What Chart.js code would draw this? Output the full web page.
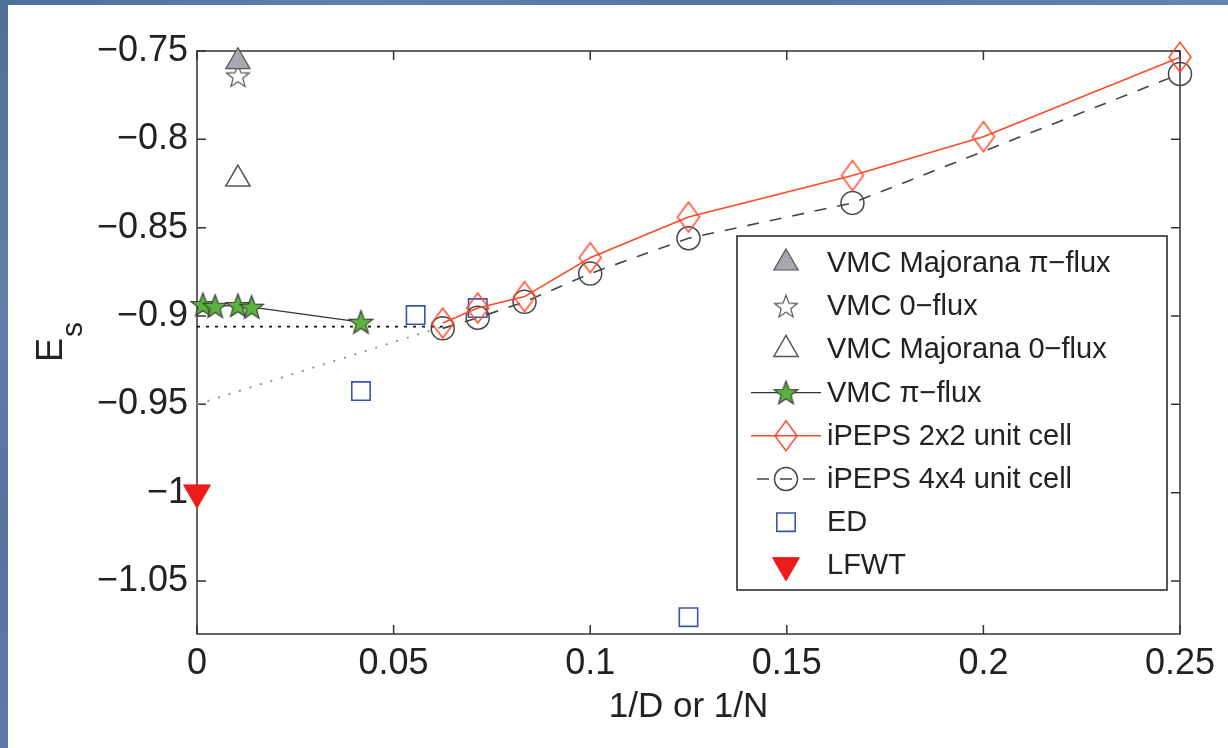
<!DOCTYPE html>
<html>
<head>
<meta charset="utf-8">
<script src="https://cdn.jsdelivr.net/npm/chart.js@4.4.1/dist/chart.umd.min.js"></script>
<style>
html,body{margin:0;padding:0;background:#fff;}
#wrap{position:relative;width:1228px;height:748px;overflow:hidden;background:#fff;}
#frameTop{position:absolute;left:0;top:0;width:1228px;height:5px;background:linear-gradient(90deg,#4e6f98,#5f81ab 30%,#52749d 60%,#6585ae);}
#frameLeft{position:absolute;left:0;top:0;width:8px;height:748px;background:linear-gradient(180deg,#4e6f98,#6080aa 40%,#52749d 70%,#5a7ca6);}
canvas{position:absolute;left:0;top:0;}
</style>
</head>
<body>
<div id="wrap"><div id="frameTop"></div><div id="frameLeft"></div><canvas id="myChart" width="1228" height="748"></canvas></div>
<script>
// axis ticks
const xTicks = [0, 0.05, 0.1, 0.15, 0.2, 0.25];
const xTickLabels = ['0', '0.05', '0.1', '0.15', '0.2', '0.25'];
const yTicks = [-0.75, -0.8, -0.85, -0.9, -0.95, -1, -1.05];
const yTickLabels = ['\u22120.75', '\u22120.8', '\u22120.85', '\u22120.9', '\u22120.95', '\u22121', '\u22121.05'];

// VMC Majorana pi-flux
const xMajPi = [0.0104];
const yMajPi = [-0.756];
// VMC 0-flux
const xZeroFlux = [0.0104];
const yZeroFlux = [-0.764];
// VMC Majorana 0-flux
const xMajZero = [0.0104];
const yMajZero = [-0.8225];
// VMC pi-flux
const xPiFlux = [0.0015, 0.0046, 0.0104, 0.0139, 0.0417];
const yPiFlux = [-0.8935, -0.8945, -0.894, -0.895, -0.9035];
// iPEPS 2x2 unit cell
const xPeps2 = [0.0625, 0.0714, 0.0833, 0.1, 0.125, 0.1667, 0.2, 0.25];
const yPeps2 = [-0.904, -0.8955, -0.889, -0.867, -0.844, -0.8205, -0.7985, -0.7535];
// iPEPS 4x4 unit cell
const xPeps4 = [0.0625, 0.0714, 0.0833, 0.1, 0.125, 0.1667, 0.25];
const yPeps4 = [-0.907, -0.901, -0.892, -0.876, -0.856, -0.836, -0.763];
// ED
const xED = [0.0417, 0.0556, 0.0714, 0.125];
const yED = [-0.9425, -0.8995, -0.8955, -1.0705];
// LFWT
const xLFWT = [0];
const yLFWT = [-1.0];
// extrapolations
const xExtrap = [0, 0.0625];
const yExtrapFlat = [-0.906, -0.906];
const yExtrapLin = [-0.95, -0.906];

const FONT = '"Liberation Sans", Arial, sans-serif';

function pts(xs, ys){ return xs.map((x, i) => ({x: x, y: ys[i]})); }

function starImage(fill, stroke, r){
    const c = document.createElement('canvas');
    const s = Math.ceil(r * 2 + 4);
    c.width = s; c.height = s;
    const ctx = c.getContext('2d');
    ctx.beginPath();
    for (let i = 0; i < 10; i++){
        const rr = i % 2 === 0 ? r : r * 0.42;
        const a = -Math.PI / 2 + i * Math.PI / 5;
        const px = s / 2 + rr * Math.cos(a), py = s / 2 + 1 + rr * Math.sin(a);
        if (i === 0) ctx.moveTo(px, py); else ctx.lineTo(px, py);
    }
    ctx.closePath();
    ctx.fillStyle = fill; ctx.fill();
    ctx.strokeStyle = stroke; ctx.lineWidth = 1.2; ctx.stroke();
    return c;
}

function diamondImage(stroke, w, h){
    const c = document.createElement('canvas');
    c.width = w + 4; c.height = h + 4;
    const ctx = c.getContext('2d');
    const cx = c.width / 2, cy = c.height / 2;
    ctx.beginPath();
    ctx.moveTo(cx, cy - h / 2); ctx.lineTo(cx + w / 2, cy);
    ctx.lineTo(cx, cy + h / 2); ctx.lineTo(cx - w / 2, cy);
    ctx.closePath();
    ctx.strokeStyle = stroke; ctx.lineWidth = 1.5; ctx.stroke();
    return c;
}

const greenStar = starImage('#5ab33c', '#3a3a3a', 12.5);
const whiteStar = starImage('#ffffff', '#555555', 12);
const redDiamond = diamondImage('#ff4a2a', 22, 30);

const datasets = [
    {label: 'VMC Majorana \u03c0\u2212flux', data: pts(xMajPi, yMajPi), pointStyle: 'triangle', pointRadius: 14,
     pointBackgroundColor: '#a8a8b0', pointBorderColor: '#555', pointBorderWidth: 1.2},
    {label: 'VMC 0\u2212flux', data: pts(xZeroFlux, yZeroFlux), pointStyle: whiteStar, pointRadius: 12,
     pointBackgroundColor: '#fff', pointBorderColor: '#555', pointBorderWidth: 1.2},
    {label: 'VMC Majorana 0\u2212flux', data: pts(xMajZero, yMajZero), pointStyle: 'triangle', pointRadius: 14,
     pointBackgroundColor: 'rgba(0,0,0,0)', pointBorderColor: '#555', pointBorderWidth: 1.5},
    {label: 'VMC \u03c0\u2212flux', data: pts(xPiFlux, yPiFlux), pointStyle: greenStar, pointRadius: 12,
     pointBackgroundColor: '#5ab33c', pointBorderColor: '#3a3a3a', pointBorderWidth: 1.2,
     showLine: true, borderColor: '#333', borderWidth: 1.2},
    {label: 'iPEPS 2x2 unit cell', data: pts(xPeps2, yPeps2), pointStyle: redDiamond, pointRadius: 14,
     pointBackgroundColor: 'rgba(0,0,0,0)', pointBorderColor: '#ff4a2a', pointBorderWidth: 1.5,
     showLine: true, borderColor: '#ff4a2a', borderWidth: 1.6},
    {label: 'iPEPS 4x4 unit cell', data: pts(xPeps4, yPeps4), pointStyle: 'circle', pointRadius: 11.5,
     pointBackgroundColor: 'rgba(0,0,0,0)', pointBorderColor: '#444', pointBorderWidth: 1.5,
     showLine: true, borderColor: '#444', borderWidth: 1.6, borderDash: [12, 11]},
    {label: 'ED', data: pts(xED, yED), pointStyle: 'rect', pointRadius: 13,
     pointBackgroundColor: 'rgba(0,0,0,0)', pointBorderColor: '#3a55b0', pointBorderWidth: 1.6},
    {label: 'LFWT', data: pts(xLFWT, yLFWT), pointStyle: 'triangle', pointRotation: 180, pointRadius: 15.5,
     pointBackgroundColor: '#ec1c1c', pointBorderColor: '#ec1c1c', pointBorderWidth: 1},
    {label: '', data: pts(xExtrap, yExtrapFlat), pointRadius: 0, showLine: true,
     borderColor: '#111', borderWidth: 1.6, borderDash: [3, 6]},
    {label: '', data: pts(xExtrap, yExtrapLin), pointRadius: 0, showLine: true,
     borderColor: '#8a8a8a', borderWidth: 1.8, borderDash: [2, 9]}
];

// MATLAB style box with inward ticks
const axesBox = {
    id: 'axesBox',
    beforeDatasetsDraw(chart){
        const {ctx, chartArea: a, scales: {x, y}} = chart;
        const tl = 9;
        ctx.save();
        ctx.strokeStyle = '#333';
        ctx.lineWidth = 1.5;
        ctx.strokeRect(a.left, a.top, a.right - a.left, a.bottom - a.top);
        ctx.beginPath();
        x.ticks.forEach(t => {
            const px = x.getPixelForValue(t.value);
            ctx.moveTo(px, a.bottom); ctx.lineTo(px, a.bottom - tl);
            ctx.moveTo(px, a.top); ctx.lineTo(px, a.top + tl);
        });
        y.ticks.forEach(t => {
            const py = y.getPixelForValue(t.value);
            ctx.moveTo(a.left, py); ctx.lineTo(a.left + tl, py);
            ctx.moveTo(a.right, py); ctx.lineTo(a.right - tl, py);
        });
        ctx.stroke();
        ctx.restore();
    }
};

// legend box inside the axes
const boxLegend = {
    id: 'boxLegend',
    afterDatasetsDraw(chart){
        const ctx = chart.ctx;
        const a = chart.chartArea;
        const right = a.right - 13, top = 236, w = 430, h = 354;
        const left = right - w;
        ctx.save();
        ctx.fillStyle = '#fff';
        ctx.fillRect(left, top, w, h);
        ctx.strokeStyle = '#222';
        ctx.lineWidth = 1.5;
        ctx.strokeRect(left, top, w, h);
        const items = chart.data.datasets.filter(d => d.label);
        const cx = left + 49, step = 43.2;
        items.forEach((d, i) => {
            const cy = top + 27 + i * step;
            if (d.showLine){
                ctx.save();
                ctx.strokeStyle = d.borderColor;
                ctx.lineWidth = d.borderWidth;
                if (d.borderDash){ ctx.setLineDash(d.borderDash); ctx.lineDashOffset = 17; }
                ctx.beginPath();
                ctx.moveTo(cx - 35, cy); ctx.lineTo(cx + 35, cy);
                ctx.stroke();
                ctx.restore();
            }
            ctx.fillStyle = d.pointBackgroundColor;
            ctx.strokeStyle = d.pointBorderColor;
            ctx.lineWidth = d.pointBorderWidth;
            Chart.helpers.drawPoint(ctx, {pointStyle: d.pointStyle, radius: d.pointRadius,
                rotation: d.pointRotation || 0, borderWidth: d.pointBorderWidth}, cx, cy);
            ctx.fillStyle = '#222';
            ctx.font = '29px ' + FONT;
            ctx.textBaseline = 'middle';
            ctx.textAlign = 'left';
            ctx.fillText(d.label, left + 90, cy + 1);
        });
        ctx.restore();
    }
};

// axis titles
const axisTitles = {
    id: 'axisTitles',
    afterDraw(chart){
        const ctx = chart.ctx;
        const a = chart.chartArea;
        ctx.save();
        ctx.fillStyle = '#222';
        ctx.font = '35px ' + FONT;
        ctx.textAlign = 'center';
        ctx.textBaseline = 'alphabetic';
        ctx.fillText('1/D or 1/N', (a.left + a.right) / 2, 717);
        ctx.translate(0, 0);
        ctx.rotate(-Math.PI / 2);
        ctx.textAlign = 'left';
        ctx.font = '36px ' + FONT;
        ctx.fillText('E', -362, 62);
        const ew = ctx.measureText('E').width;
        ctx.font = '30px ' + FONT;
        ctx.fillText('s', -362 + ew + 1, 82);
        ctx.restore();
    }
};

const config = {
    type: 'scatter',
    data: {datasets: datasets},
    options: {
        responsive: false,
        animation: false,
        devicePixelRatio: 1,
        layout: {padding: {left: 0, top: 51, right: 48, bottom: 0}},
        datasets: {scatter: {clip: false}},
        scales: {
            x: {
                type: 'linear', min: 0, max: 0.25,
                grid: {display: false, drawTicks: false},
                border: {display: false},
                afterBuildTicks: (s) => { s.ticks = xTicks.map(v => ({value: v})); },
                afterFit: (s) => { s.height = 114; },
                ticks: {
                    autoSkip: false, maxRotation: 0, padding: 8, color: '#222',
                    font: {family: FONT, size: 36},
                    callback: (v) => xTickLabels[xTicks.indexOf(v)]
                }
            },
            y: {
                type: 'linear', min: -1.08, max: -0.75,
                grid: {display: false, drawTicks: false},
                border: {display: false},
                afterBuildTicks: (s) => { s.ticks = yTicks.map(v => ({value: v})); },
                afterFit: (s) => { s.width = 197; },
                ticks: {
                    autoSkip: false, padding: 9, color: '#222',
                    font: {family: FONT, size: 36},
                    callback: (v) => yTickLabels[yTicks.indexOf(v)]
                }
            }
        },
        plugins: {
            legend: {display: false},
            tooltip: {enabled: false}
        }
    },
    plugins: [axesBox, boxLegend, axisTitles]
};

const myChart = new Chart(document.getElementById('myChart'), config);
</script>
</body>
</html>
